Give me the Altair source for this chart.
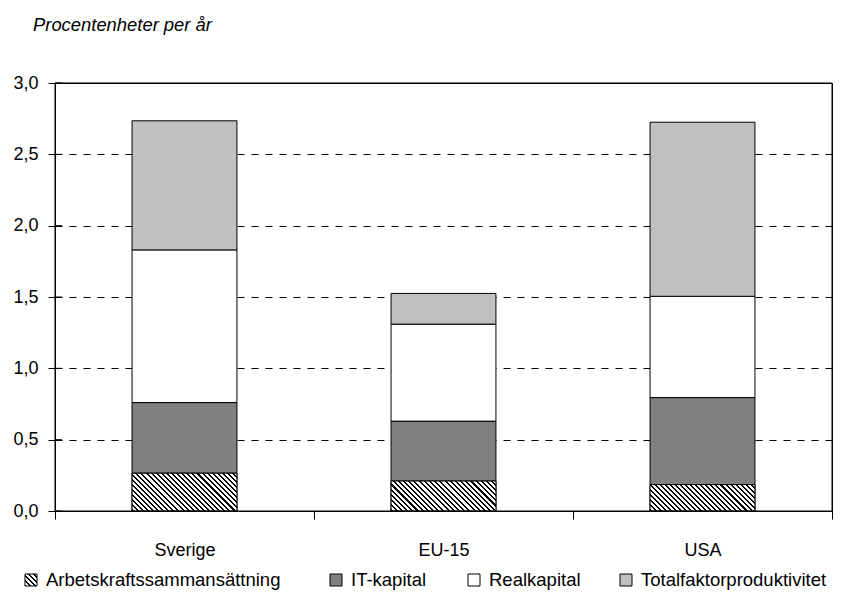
import altair as alt
import pandas as pd

countries = ["Sverige", "EU-15", "USA"]
components = ["Arbetskraftssammansättning", "IT-kapital", "Realkapital", "Totalfaktorproduktivitet"]
arbetskraft = [0.265, 0.21, 0.185]
it_kapital = [0.495, 0.42, 0.61]
realkapital = [1.07, 0.68, 0.71]
tfp = [0.905, 0.215, 1.22]
y_ticks = [0.0, 0.5, 1.0, 1.5, 2.0, 2.5, 3.0]
title_text = "Procentenheter per år"
colors = ["white", "#808080", "white", "#c0c0c0"]

series = [arbetskraft, it_kapital, realkapital, tfp]
rows = []
for ci, comp in enumerate(components):
    for k, c in enumerate(countries):
        rows.append({"land": c, "komponent": comp, "varde": series[ci][k], "ordning": ci})
df = pd.DataFrame(rows)

FONT = "Liberation Sans"
W, H = 777, 428
YMAX = 3.0
BAND = 0.405
# legend layout (pixels relative to the plot area's top-left corner)
LEG_SYM_LEFT = [-30, 275, 413, 565]
LEG_SYM_CY = 497
LEG_TEXT_Y = 503
LEG_FS = 18.5


def hatch(w, h, period=3.6, dark=0.4):
    r = h / w
    k = (1 + r) / (1 + r * r)
    n = max(1, round((w + h) / 2 ** 0.5 / period))
    stops = []
    for i in range(n):
        a = i / n
        b = (i + dark) / n
        c = (i + 1) / n
        stops += [
            alt.GradientStop(offset=a, color="black"),
            alt.GradientStop(offset=b, color="black"),
            alt.GradientStop(offset=b, color="white"),
            alt.GradientStop(offset=c, color="white"),
        ]
    return alt.LinearGradient(gradient="linear", stops=stops, x1=0, y1=1, x2=k, y2=1 - k * r)


x_enc = alt.X(
    "land:N",
    sort=countries,
    scale=alt.Scale(paddingInner=0, paddingOuter=0),
    axis=alt.Axis(
        title=None, labelAngle=0, tickBand="extent", tickSize=8, labelPadding=22,
        labelFontSize=18, labelFont=FONT, labelColor="black",
        domainColor="black", tickColor="black", domainWidth=1, tickWidth=1,
    ),
)
y_enc = alt.Y(
    "varde:Q",
    stack="zero",
    scale=alt.Scale(domain=[0, YMAX], nice=False),
    axis=alt.Axis(
        title=None, values=y_ticks,
        labelExpr="replace(format(datum.value, '.1f'), '.', ',')",
        grid=True, gridColor="black", gridDash=[7, 7], gridWidth=1,
        tickSize=7, labelPadding=10, labelFontSize=18, labelFont=FONT,
        labelColor="black", domainColor="black", tickColor="black",
    ),
)

base = alt.Chart(df).mark_bar(
    stroke="black", strokeWidth=1, width=alt.RelativeBandSize(BAND)
).encode(
    x=x_enc,
    y=y_enc,
    color=alt.Color(
        "komponent:N",
        scale=alt.Scale(domain=components, range=colors),
        legend=None,
    ),
    order=alt.Order("ordning:Q"),
)

layers = [base]
for k, c in enumerate(countries):
    dfc = pd.DataFrame([{"land": c, "varde": arbetskraft[k]}])
    w_px = BAND * W / len(countries)
    h_px = arbetskraft[k] * H / YMAX
    layers.append(
        alt.Chart(dfc).mark_bar(
            fill=hatch(w_px, h_px), stroke="black", strokeWidth=1,
            width=alt.RelativeBandSize(BAND),
        ).encode(x=x_enc, y=y_enc)
    )

ticks_df = pd.DataFrame({"varde": y_ticks})
layers.append(
    alt.Chart(ticks_df).mark_rule(color="black", strokeWidth=1).encode(
        y=alt.Y("varde:Q"), x=alt.value(0), x2=alt.value(7)
    )
)

# plot frame
frame_df = pd.DataFrame([{"f": 1}])
layers.append(
    alt.Chart(frame_df).mark_rect(
        fillOpacity=0, stroke="black", strokeWidth=1
    ).encode(x=alt.value(0), x2=alt.value(W), y=alt.value(0), y2=alt.value(H))
)

# legend (one swatch + label per component)
for i, comp in enumerate(components):
    item_df = pd.DataFrame([{"komponent": comp}])
    fill = hatch(12, 12) if i == 0 else colors[i]
    layers.append(
        alt.Chart(item_df).mark_square(
            size=144, fill=fill, stroke="black", strokeWidth=1, opacity=1
        ).encode(x=alt.value(LEG_SYM_LEFT[i] + 6), y=alt.value(LEG_SYM_CY))
    )
    layers.append(
        alt.Chart(item_df).mark_text(
            align="left", baseline="alphabetic", font=FONT, fontSize=LEG_FS, color="black"
        ).encode(text="komponent:N", x=alt.value(LEG_SYM_LEFT[i] + 21), y=alt.value(LEG_TEXT_Y))
    )

# chart heading (italic, top-left)
title_df = pd.DataFrame([{"t": title_text}])
layers.append(
    alt.Chart(title_df).mark_text(
        align="left", baseline="alphabetic", font=FONT, fontSize=18.4,
        fontStyle="italic", color="black",
    ).encode(text="t:N", x=alt.value(-22), y=alt.value(-52))
)

chart = alt.layer(*layers).properties(
    width=W,
    height=H,
    autosize=alt.AutoSizeParams(type="none"),
    padding={"left": 47, "top": 75, "right": 2, "bottom": 79},
).configure(font=FONT).configure_view(stroke="black", strokeWidth=1)

chart.save("out.html", embed_options={"renderer": "svg", "actions": False})
